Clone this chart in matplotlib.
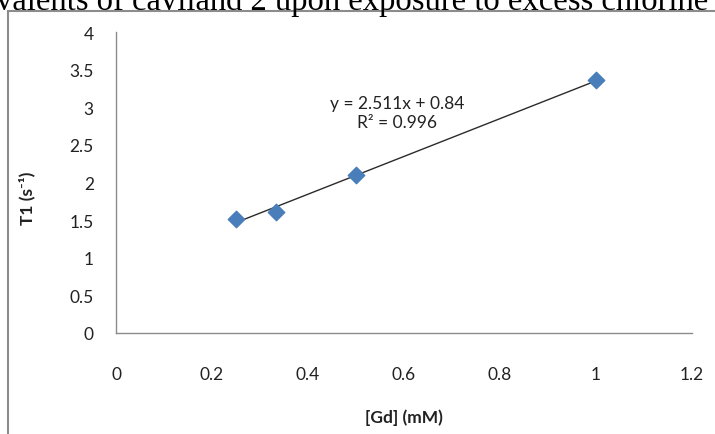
import matplotlib
matplotlib.use('Agg')
import matplotlib.pyplot as plt
from matplotlib.patches import Rectangle
import numpy as np

# data
gd_mM = [0.25, 0.333, 0.5, 1.0]
t1 = [1.52, 1.61, 2.10, 3.36]
slope = 2.511
intercept = 0.84
r2 = 0.996
x_ticks = [0, 0.2, 0.4, 0.6, 0.8, 1.0, 1.2]
x_tick_labels = ['0', '0.2', '0.4', '0.6', '0.8', '1', '1.2']
y_ticks = [0, 0.5, 1, 1.5, 2, 2.5, 3, 3.5, 4]
y_tick_labels = ['0', '0.5', '1', '1.5', '2', '2.5', '3', '3.5', '4']

plt.rcParams['font.family'] = ['Lato', 'DejaVu Sans']

fig = plt.figure(figsize=(7.15, 4.35), dpi=100)
ax = fig.add_axes([116 / 715, 1 - 334 / 435, 576 / 715, 301 / 435])

# trend line across the data range
xs = np.array([min(gd_mM), max(gd_mM)])
ax.plot(xs, slope * xs + intercept, color='#2b2b2b', lw=1.0, zorder=2)
ax.scatter(gd_mM, t1, marker='D', s=70, color='#4a7ebb', zorder=3, clip_on=False)

ax.set_xlim(0, 1.2)
ax.set_ylim(0, 4)
ax.set_xticks(x_ticks)
ax.set_xticklabels(x_tick_labels)
ax.set_yticks(y_ticks)
ax.set_yticklabels(y_tick_labels)
ax.tick_params(length=0, labelsize=12.5, colors='#222222')
ax.tick_params(axis='x', pad=24)
ax.tick_params(axis='y', pad=16)

for side in ['top', 'right']:
    ax.spines[side].set_visible(False)
for side in ['left', 'bottom']:
    ax.spines[side].set_color('#8c8c8c')
    ax.spines[side].set_linewidth(1.0)

ax.set_xlabel('[Gd] (mM)', fontsize=12.5, fontweight='bold', color='#222222')
ax.set_ylabel('T1 (s\u207b\u00b9)', fontsize=12.5, fontweight='bold', color='#222222')
ax.xaxis.set_label_coords(0.5, -0.25)
ax.yaxis.set_label_coords(-0.14, 0.45)

ax.text(0.585, 2.93, f'y = {slope}x + {intercept}\nR\u00b2 = {r2}', ha='center', va='center',
        fontsize=12.5, color='#222222', linespacing=1.25)

# border of the embedded chart
fig.add_artist(Rectangle((8 / 715, -0.1), 1.2, 1.1 - 12 / 435, transform=fig.transFigure,
                         fill=False, edgecolor='#8c8c8c', lw=1.5))

# caption line cut off above the chart
fig.text(-4 / 715, 1 - 10 / 435, 'valents of caviland 2 upon exposure to excess chlorine',
         fontsize=23.5, family='Liberation Serif', color='black', va='baseline', ha='left')

fig.savefig('out.png', dpi=100)
